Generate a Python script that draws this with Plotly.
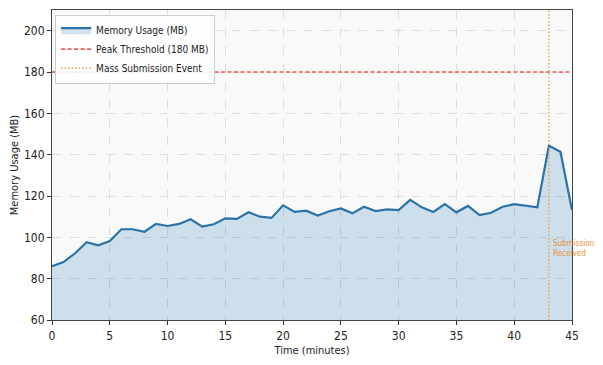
import plotly.graph_objects as go

minutes = list(range(46))
memory_mb = [86, 88, 92.3, 97.6, 96.1, 98.2, 103.9, 103.9, 102.7, 106.5,
             105.5, 106.5, 108.7, 105.2, 106.3, 109.2, 108.9, 112.1, 110, 109.4,
             115.5, 112.3, 112.9, 110.5, 112.6, 114, 111.6, 114.8, 112.7, 113.5,
             113.2, 118.1, 114.5, 112.3, 116.1, 112.1, 115.2, 110.8, 111.9, 114.8,
             116.1, 115.2, 114.5, 144.3, 141.4, 113.2]
threshold = 180
event_minute = 43
x_ticks = [0, 5, 10, 15, 20, 25, 30, 35, 40, 45]
y_ticks = [60, 80, 100, 120, 140, 160, 180, 200]

FONT = "DejaVu Sans Condensed, DejaVu Sans"

fig = go.Figure()
fig.add_trace(go.Scatter(
    x=minutes, y=memory_mb, mode="lines", name="Memory Usage (MB)",
    line=dict(color="#2a73a8", width=2.2),
    fill="tozeroy", fillcolor="rgba(31,119,180,0.2)",
))
fig.add_trace(go.Scatter(
    x=[0, 45], y=[threshold, threshold], mode="lines", name="Peak Threshold (180 MB)",
    line=dict(color="rgba(235,60,60,0.85)", width=1.6, dash="4px,2.5px"),
))
fig.add_trace(go.Scatter(
    x=[event_minute, event_minute], y=[60, 210], mode="lines", name="Mass Submission Event",
    line=dict(color="rgba(240,150,60,0.8)", width=1.6, dash="1.5px,2px"),
))
fig.add_annotation(
    x=event_minute, y=94.6, xref="x", yref="y", text="Submissions<br>Received",
    showarrow=False, xanchor="left", align="left", xshift=2,
    font=dict(family=FONT, size=8, color="#e8913a"),
)

fig.update_layout(
    width=595, height=349,
    margin=dict(l=44, r=31, t=2, b=37),
    paper_bgcolor="white", plot_bgcolor="#f9f9f9",
    font=dict(family=FONT, color="#222"),
    showlegend=True,
    legend=dict(x=0.006, y=0.985, xanchor="left", yanchor="top",
                bgcolor="rgba(255,255,255,0.85)", bordercolor="#cccccc", borderwidth=1,
                font=dict(size=10, color="#222"), tracegroupgap=0,
                itemwidth=30),
)
fig.update_xaxes(
    range=[0, 45], tickvals=x_ticks, ticks="outside", ticklen=4, tickcolor="#333",
    showline=True, linecolor="#444", linewidth=1.2, mirror=True,
    showgrid=True, gridcolor="#dddddd", griddash="dash", gridwidth=1,
    zeroline=False, tickfont=dict(size=12), automargin=False,
    title=dict(text="Time (minutes)", font=dict(size=11), standoff=4),
)
fig.update_yaxes(
    range=[60, 210], tickvals=y_ticks, ticks="outside", ticklen=4, tickcolor="#333",
    showline=True, linecolor="#444", linewidth=1.2, mirror=True,
    showgrid=True, gridcolor="#dddddd", griddash="dash", gridwidth=1,
    zeroline=False, tickfont=dict(size=12), automargin=False,
    title=dict(text="Memory Usage (MB)", font=dict(size=11), standoff=4),
)

fig.write_html("out.html")
